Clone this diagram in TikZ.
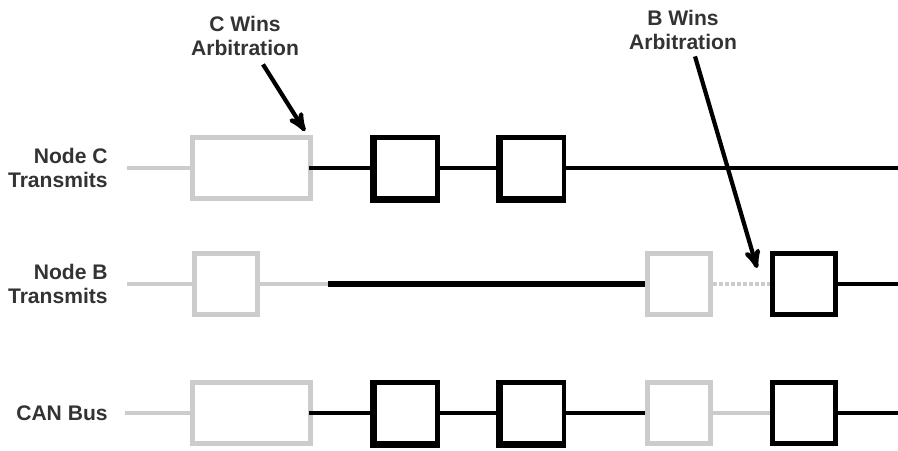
\documentclass[tikz,border=0pt]{standalone}
\usepackage{fontspec}
\setmainfont{Liberation Sans}
\usepackage{tikz}
\usetikzlibrary{positioning,arrows}

\begin{document}
\begin{tikzpicture}[x=0.02cm,y=-0.02cm,>=stealth',font=\bfseries\fontsize{12}{14}\selectfont]
  \tikzstyle{lbl}=[text=black!80,align=right,anchor=east,inner sep=0pt]
  \tikzstyle{note}=[text=black!80,align=center,inner sep=0pt]
  \tikzstyle{lost}=[draw=black!20,line width=2.8pt,minimum height=1.22cm,minimum width=1.26cm,inner sep=0pt]
  \tikzstyle{won}=[draw=black,line width=2.8pt,minimum height=1.22cm,minimum width=1.26cm,inner sep=0pt]
  \tikzstyle{idle}=[black!20,line width=2.2pt]
  \tikzstyle{bus}=[black,line width=1.9pt]
  \tikzstyle{pointer}=[->,black,line width=2.4pt]
  \useasboundingbox (0,0) rectangle (898,450);

  % signal names
  \node[lbl] (txC) at (108,168) {Node C\\Transmits};
  \node[lbl] (txB) at (108,284) {Node B\\Transmits};
  \node[lbl] (bus) at (108,413) {CAN Bus};

  % node C
  \node[lost,minimum width=2.36cm] (c0) at (251.5,168) {};
  \node[won] (c1) at (406,168) {};
  \node[won] (c2) at (532.5,168) {};
  \coordinate (cIn) at (127,168);
  \coordinate (cOut) at (898,168);
  \draw[idle] (cIn) -- (c0);
  \draw[bus] ([xshift=-2pt]c0.east) -- (c1) (c1) -- (c2) (c2) -- (cOut);

  % node B
  \node[lost] (b0) at (226,284) {};
  \node[lost] (b1) at (679,284) {};
  \node[won] (b2) at (804,284) {};
  \coordinate (bIn) at (127,284);
  \coordinate (bOn) at (328,284);
  \coordinate (bOut) at (898,284);
  \draw[idle] (bIn) -- (b0) (b0) -- (bOn);
  \draw[bus,line width=3.8pt] (bOn) -- (b1);
  \draw[idle,line width=2.4pt,densely dotted] (b1) -- (b2);
  \draw[bus,line width=2.8pt] (b2) -- (bOut);

  % resulting bus level
  \node[lost,minimum width=2.36cm] (n0) at (251.5,413) {};
  \node[won] (n1) at (406,413) {};
  \node[won] (n2) at (532.5,413) {};
  \node[lost] (n3) at (679,413) {};
  \node[won] (n4) at (804,413) {};
  \coordinate (nIn) at (125,413);
  \coordinate (nOut) at (898,413);
  \draw[idle,line width=1.8pt] (nIn) -- (n0) (n3) -- (n4);
  \draw[bus] ([xshift=-2pt]n0.east) -- (n1) (n1) -- (n2) (n2) -- (n3);
  \draw[bus,line width=2.8pt] (n4) -- (nOut);

  % heavier left and bottom edges
  \foreach \b in {c1,c2,n1,n2}
    \draw[line width=2.4pt] (\b.north west) -- (\b.south west) -- (\b.south east);

  % arbitration notes
  \node[note] (wC) at (245,36) {C Wins\\Arbitration};
  \node[note] (wB) at (683,30) {B Wins\\Arbitration};
  \draw[pointer] (wC.south) ++(18,8) -- ([shift={(-8,-4)}]c0.north east);
  \draw[pointer] (wB.south) ++(12,6) -- ([shift={(-13,-16)}]b2.west);
\end{tikzpicture}
\end{document}
